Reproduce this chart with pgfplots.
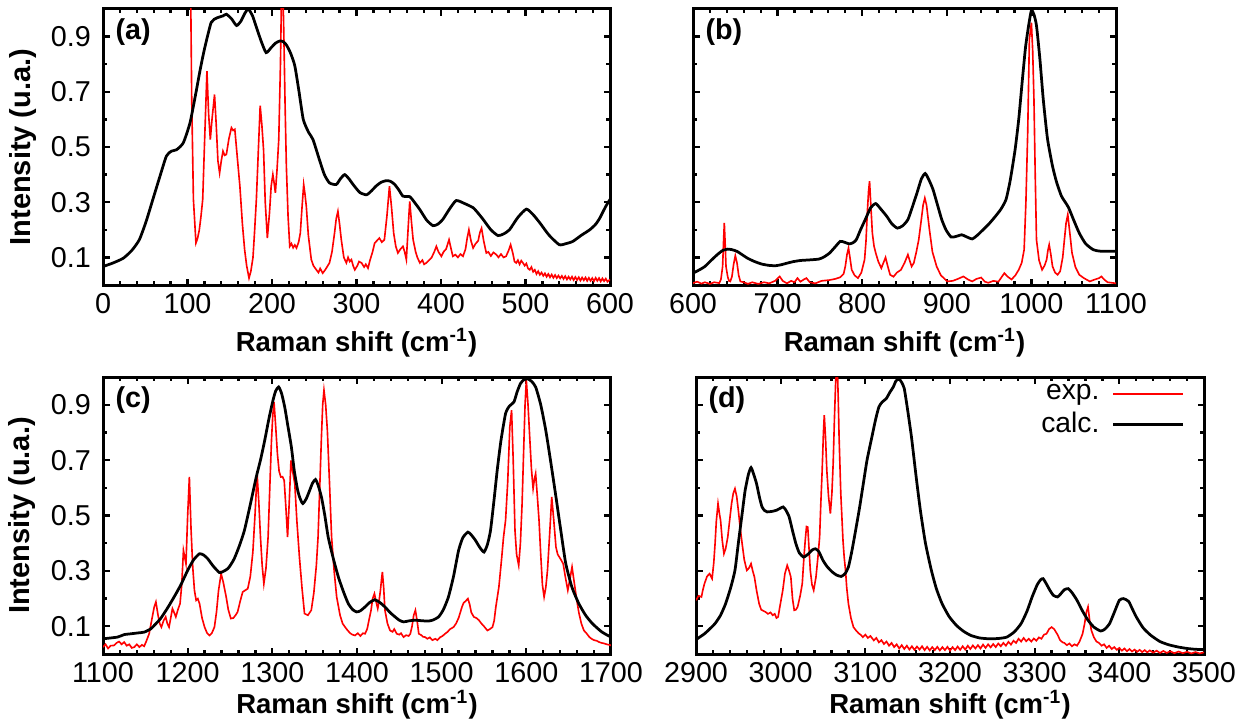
\documentclass[border=0pt]{standalone}
\usepackage{pgfplots}
\pgfplotsset{compat=1.18}
\usepackage{fontspec}
\setmainfont{Liberation Sans}
\pgfplotsset{
  panel/.style={
    scale only axis, anchor=south west, ymin=0, ymax=1,
    ytick={0.1,0.3,0.5,0.7,0.9}, minor ytick={0.2,0.4,0.6,0.8},
    minor x tick num=4, tick align=inside,
    major tick length=2.6pt, minor tick length=1.6pt,
    axis line style={line width=1.2pt},
    every tick/.style={black, line width=0.9pt},
    tick label style={font=\fontsize{11.5}{13}\selectfont},
    every axis y label/.append style={at={(axis description cs:-0.1587,0.5)}, anchor=center},
    xlabel style={font=\fontsize{11}{13}\selectfont\bfseries},
    ylabel style={font=\fontsize{11.6}{13}\selectfont\bfseries},
    /pgf/number format/assume math mode=true,
    xticklabel style={/pgf/number format/1000 sep={}},
    yticklabel style={/pgf/number format/fixed, /pgf/number format/precision=1, xshift=-1.3pt},
    xlabel={Raman shift (cm\textsuperscript{-1})},
  },
  toprow/.style={every axis x label/.append style={at={(axis description cs:0.5,-0.21)}, anchor=center}},
  botrow/.style={every axis x label/.append style={at={(axis description cs:0.5,-0.184)}, anchor=center}},
}
\tikzset{
  exp/.style={red, line width=0.65pt},
  calc/.style={black, line width=1.1pt, smooth, tension=0.35},
  plab/.style={anchor=north west, inner sep=0pt, font=\fontsize{11.5}{13}\selectfont\bfseries, xshift=4.8pt, yshift=-3.6pt},
}
\begin{document}
\begin{tikzpicture}
\path[use as bounding box] (0pt,0pt) rectangle (502pt,289.6pt);
% ---------------- (a)
\begin{axis}[panel, toprow, at={(41.2pt,175.6pt)}, width=202.8pt, height=110.4pt,
  xmin=0, xmax=600, xtick={0,100,...,600}, ylabel={Intensity (u.a.)}]
\addplot[exp] coordinates {(103,1.3)(105,0.67)(107,0.31)(110,0.152)(112,0.17)(114,0.2)(116,0.25)(118,0.31)(120,0.5)(123,0.775)(125,0.62)(127,0.527)(129,0.6)(132,0.69)(134,0.58)(136,0.45)(138,0.406)(140,0.45)(142,0.485)(144,0.47)(146,0.473)(149,0.53)(152,0.57)(154,0.56)(156,0.564)(159,0.46)(162,0.358)(165,0.22)(167.6,0.128)(170,0.07)(172.8,0.025)(175,0.05)(177.5,0.1)(179.5,0.2)(181.5,0.31)(184,0.5)(186,0.65)(188,0.58)(190,0.49)(192,0.3)(194.5,0.17)(197,0.26)(199,0.358)(201,0.40)(202.5,0.37)(204,0.334)(206,0.42)(208,0.527)(210,0.8)(212,1.2)(214,0.91)(215.5,0.65)(217,0.43)(219,0.25)(221,0.14)(223,0.15)(225,0.135)(227,0.145)(229,0.134)(231.5,0.155)(233.5,0.188)(235.5,0.28)(237.5,0.364)(239,0.33)(240.6,0.285)(243,0.18)(246.5,0.092)(249,0.07)(252.5,0.055)(255,0.045)(257,0.06)(260,0.043)(263,0.055)(265,0.065)(268,0.08)(271,0.12)(274,0.188)(276,0.24)(278,0.267)(280,0.22)(282,0.164)(285,0.1)(288,0.08)(290,0.1)(292,0.085)(294,0.092)(296,0.07)(298,0.055)(301,0.07)(303,0.085)(306,0.08)(309,0.065)(311,0.075)(313.6,0.061)(316,0.09)(319,0.12)(321.5,0.152)(324,0.16)(327,0.17)(330,0.155)(333,0.164)(336,0.25)(339,0.358)(341.5,0.28)(344,0.188)(346.5,0.14)(349,0.116)(352,0.13)(355,0.14)(357,0.12)(359,0.092)(361,0.2)(363,0.303)(365,0.23)(367,0.164)(370,0.12)(372,0.1)(375,0.08)(378,0.09)(380,0.075)(382.6,0.08)(386,0.09)(389,0.1)(392,0.12)(394.5,0.14)(397,0.12)(400.4,0.104)(403,0.12)(406,0.13)(409.5,0.164)(412,0.13)(414,0.104)(417,0.11)(420,0.1)(423,0.112)(426,0.104)(429,0.13)(431,0.17)(433,0.2)(435.5,0.16)(438,0.134)(441,0.15)(444,0.16)(446,0.19)(448,0.206)(450.5,0.16)(453.6,0.116)(456,0.12)(459,0.105)(462,0.118)(465.5,0.11)(468,0.1)(471,0.112)(474,0.1)(477,0.104)(480,0.125)(482.4,0.146)(485,0.115)(487,0.085)(489,0.08)(491,0.09)(493,0.075)(495,0.088)(497,0.08)(499,0.07)(501,0.078)(503,0.06)(505,0.055)(507,0.065)(509,0.048)(511,0.055)(513,0.04)(515,0.05)(517,0.037)(519,0.045)(521,0.033)(523,0.042)(525,0.03)(527,0.04)(529,0.028)(531,0.038)(533,0.026)(535,0.036)(537,0.025)(539,0.034)(541,0.024)(543,0.033)(545,0.022)(547,0.032)(549,0.02)(551,0.03)(553,0.02)(555,0.03)(557,0.018)(559,0.029)(561,0.018)(563,0.028)(565,0.016)(567,0.027)(569,0.017)(571,0.027)(573,0.015)(575,0.026)(577,0.015)(579,0.025)(581,0.014)(583,0.026)(585,0.015)(587,0.025)(589,0.013)(591,0.024)(593,0.014)(595,0.023)(597,0.012)(600,0.02)};
\addplot[calc] coordinates {(0,0.067)(12,0.08)(24,0.097)(34,0.125)(43,0.164)(51,0.23)(59,0.31)(67,0.39)(75,0.467)(81,0.485)(87,0.49)(95,0.515)(103,0.588)(110,0.697)(115,0.78)(120,0.854)(128,0.951)(135,0.968)(142,0.975)(146,0.981)(152,0.965)(158,0.94)(163,0.955)(168,0.985)(172,1.0)(177,0.975)(181,0.939)(187,0.885)(193,0.842)(199,0.86)(204,0.876)(209,0.884)(213,0.882)(217,0.87)(222,0.84)(227,0.794)(232,0.7)(237,0.6)(243,0.555)(248.5,0.527)(256,0.455)(262,0.4)(268,0.37)(276,0.364)(281,0.385)(286,0.4)(291,0.385)(296,0.364)(304,0.335)(312,0.327)(318,0.342)(323,0.358)(329,0.372)(335,0.378)(340,0.376)(345,0.365)(350,0.345)(355,0.322)(363,0.32)(369,0.298)(375,0.273)(383,0.235)(390.5,0.215)(396,0.22)(402,0.237)(410,0.275)(418,0.306)(428,0.295)(438,0.28)(444,0.26)(450,0.237)(459,0.2)(467.5,0.179)(474,0.185)(481,0.2)(491,0.245)(501,0.275)(509,0.255)(517,0.225)(528,0.18)(540,0.146)(548,0.15)(556,0.158)(566,0.18)(576,0.2)(583,0.22)(588,0.243)(595,0.285)(600,0.31)};
\node[plab] at (rel axis cs:0,1) {(a)};
\end{axis}
% ---------------- (b)
\begin{axis}[panel, toprow, at={(277.2pt,175.6pt)}, width=169.2pt, height=110.4pt,
  xmin=600, xmax=1100, xtick={600,700,...,1100}, yticklabels={}]
\addplot[exp] coordinates {(600,0.007)(605,0.012)(610,0.005)(614,0.01)(620,0.004)(625,0.01)(631,0.007)(633,0.02)(635,0.067)(636,0.15)(637,0.225)(638,0.15)(639,0.067)(641,0.03)(642.5,0.015)(644,0.013)(646,0.03)(648,0.075)(650,0.106)(652,0.08)(654,0.035)(656,0.013)(660,0.01)(665,0.004)(670,0.01)(677,0.004)(684,0.01)(690,0.006)(697,0.015)(702.5,0.031)(706,0.015)(711,0.006)(716,0.015)(720,0.01)(723.5,0.025)(727,0.012)(731,0.02)(734,0.025)(738,0.01)(744.6,0.006)(752,0.015)(761.5,0.018)(768,0.022)(774,0.028)(778,0.04)(780,0.067)(782,0.11)(783.8,0.134)(785.5,0.1)(787.6,0.055)(791,0.035)(795,0.025)(799,0.045)(802.8,0.092)(804.5,0.16)(806,0.261)(807.5,0.34)(808.7,0.376)(810,0.3)(812,0.188)(814,0.14)(816,0.116)(819,0.085)(822.6,0.061)(825,0.08)(827.6,0.1)(830,0.07)(833,0.037)(837,0.03)(841,0.045)(845.8,0.055)(850,0.08)(854,0.11)(856,0.09)(858.4,0.067)(861,0.08)(864,0.12)(866.8,0.164)(870,0.24)(872,0.29)(874,0.315)(876,0.29)(879.5,0.2)(883,0.12)(888,0.067)(893,0.035)(900.6,0.013)(907,0.015)(913,0.022)(919.6,0.031)(925,0.02)(930,0.013)(935,0.022)(940.6,0.027)(945,0.012)(949,0.008)(955,0.015)(961,0.012)(968,0.043)(972,0.03)(976.5,0.02)(981,0.035)(985,0.055)(988.5,0.08)(991.4,0.128)(993.5,0.3)(995.6,0.55)(997.6,0.89)(1000,0.95)(1001.5,0.85)(1003,0.673)(1004.5,0.4)(1006,0.164)(1009,0.09)(1012.6,0.055)(1015.5,0.07)(1018,0.092)(1019.5,0.125)(1021,0.146)(1023,0.11)(1025,0.067)(1028,0.045)(1031,0.037)(1034,0.05)(1037,0.1)(1039,0.164)(1041,0.225)(1043,0.255)(1045,0.2)(1048,0.116)(1052,0.065)(1056.6,0.037)(1062,0.025)(1069,0.013)(1075,0.02)(1080,0.025)(1082.7,0.031)(1086,0.02)(1090,0.01)(1095,0.008)(1100,0.006)};
\addplot[calc] coordinates {(600,0.043)(607,0.054)(614,0.067)(621,0.088)(628.7,0.11)(635,0.125)(641,0.13)(646,0.128)(652,0.122)(658,0.11)(664.5,0.097)(672,0.086)(681,0.076)(690,0.071)(698,0.07)(705,0.074)(711,0.079)(719,0.085)(727.7,0.089)(738,0.091)(749,0.094)(755,0.102)(761.5,0.116)(768,0.138)(774,0.158)(779,0.155)(784.7,0.149)(789,0.153)(793,0.164)(798,0.2)(803.6,0.237)(810,0.28)(816,0.295)(822,0.275)(829,0.249)(835,0.222)(841.6,0.206)(848,0.215)(854,0.237)(859,0.28)(864.8,0.334)(870,0.385)(874.5,0.404)(879,0.38)(883.7,0.346)(889,0.29)(894,0.237)(899,0.2)(905,0.174)(911,0.176)(917.5,0.182)(923,0.175)(930,0.167)(936,0.18)(942.8,0.2)(950,0.222)(957.5,0.249)(964,0.275)(970,0.31)(975,0.38)(980.7,0.49)(985,0.6)(989,0.733)(993,0.86)(996.7,0.94)(1000,0.995)(1003,0.98)(1006,0.94)(1010,0.82)(1014,0.673)(1019,0.53)(1025,0.43)(1030,0.37)(1035.5,0.322)(1040,0.3)(1044,0.28)(1050,0.235)(1056.6,0.188)(1064,0.15)(1073,0.128)(1080,0.123)(1086,0.122)(1100,0.122)};
\node[plab] at (rel axis cs:0,1) {(b)};
\end{axis}
% ---------------- (c)
\begin{axis}[panel, botrow, at={(41.2pt,28pt)}, width=203.2pt, height=110.8pt,
  xmin=1100, xmax=1700, xtick={1100,1200,...,1700}, ylabel={Intensity (u.a.)}]
\addplot[exp] coordinates {(1100,0.025)(1103,0.035)(1106,0.02)(1109,0.03)(1113,0.031)(1116,0.04)(1119,0.045)(1122,0.035)(1125,0.043)(1128,0.03)(1131,0.035)(1134,0.022)(1137,0.025)(1140,0.035)(1143,0.025)(1146,0.033)(1148.6,0.028)(1151,0.045)(1154.5,0.073)(1158,0.13)(1160.5,0.17)(1162.5,0.188)(1165,0.14)(1167,0.11)(1169,0.097)(1171.5,0.12)(1174,0.134)(1176,0.11)(1178,0.097)(1180,0.13)(1182,0.164)(1184,0.15)(1186,0.134)(1188.5,0.16)(1191,0.182)(1193,0.25)(1195,0.374)(1196.5,0.35)(1198,0.326)(1200,0.5)(1202,0.639)(1204,0.45)(1206,0.314)(1208,0.23)(1210,0.194)(1212,0.2)(1214,0.182)(1217,0.13)(1220,0.097)(1223,0.075)(1225.7,0.067)(1228.5,0.075)(1231.6,0.097)(1234,0.15)(1236.5,0.23)(1239.5,0.29)(1242,0.26)(1245.5,0.206)(1248,0.16)(1251,0.128)(1254,0.13)(1257,0.142)(1259,0.152)(1262,0.19)(1265,0.224)(1268,0.23)(1271,0.236)(1274,0.28)(1277,0.368)(1279.5,0.5)(1282,0.651)(1284,0.55)(1286,0.422)(1288,0.32)(1290,0.254)(1292.5,0.31)(1295,0.422)(1297,0.6)(1299,0.771)(1300.5,0.86)(1302,0.91)(1304,0.82)(1306,0.723)(1308,0.66)(1310,0.639)(1312,0.64)(1314,0.627)(1316,0.53)(1318,0.422)(1320,0.55)(1322,0.699)(1324,0.66)(1326.5,0.615)(1329,0.48)(1332,0.35)(1335,0.24)(1338,0.146)(1342,0.14)(1346,0.158)(1349,0.22)(1352,0.32)(1354,0.422)(1356,0.6)(1358,0.783)(1359.5,0.9)(1361,0.952)(1363,0.9)(1365,0.807)(1367.5,0.62)(1370,0.422)(1373,0.3)(1376,0.206)(1380,0.14)(1383,0.11)(1386,0.097)(1389,0.085)(1392,0.075)(1394.5,0.07)(1397.6,0.067)(1401,0.075)(1404,0.065)(1407,0.075)(1409.5,0.073)(1412,0.09)(1414,0.12)(1416.6,0.158)(1418.5,0.2)(1420.6,0.218)(1422.5,0.19)(1424.5,0.164)(1426,0.19)(1427.7,0.23)(1429,0.27)(1430,0.296)(1431.5,0.24)(1433,0.158)(1436,0.11)(1439,0.085)(1442,0.08)(1444,0.09)(1447,0.073)(1450,0.07)(1452,0.075)(1455,0.061)(1458,0.068)(1461,0.065)(1463,0.073)(1465,0.1)(1467,0.14)(1469,0.158)(1471,0.12)(1473,0.073)(1476,0.068)(1478,0.062)(1480.6,0.061)(1483,0.055)(1486,0.06)(1489,0.05)(1492.5,0.055)(1495,0.05)(1498,0.06)(1501,0.065)(1504,0.073)(1507,0.08)(1510,0.09)(1514,0.097)(1517,0.11)(1520,0.13)(1522,0.15)(1524,0.17)(1526,0.185)(1528,0.19)(1531,0.2)(1533,0.18)(1535,0.15)(1538,0.134)(1541,0.13)(1544,0.122)(1547,0.11)(1550,0.1)(1554,0.085)(1557,0.09)(1560,0.097)(1562,0.12)(1564,0.17)(1567.6,0.242)(1571,0.35)(1573,0.42)(1575.5,0.483)(1578,0.62)(1580.5,0.82)(1582.6,0.88)(1584.5,0.7)(1586.6,0.446)(1588.5,0.36)(1591,0.32)(1593,0.4)(1595,0.543)(1597,0.75)(1598.5,0.9)(1600,0.988)(1602,0.9)(1604,0.783)(1606,0.67)(1608,0.597)(1609.5,0.63)(1611,0.651)(1613,0.57)(1615,0.483)(1617,0.36)(1619,0.25)(1621,0.206)(1623,0.24)(1625,0.302)(1627.5,0.43)(1630,0.567)(1632.5,0.48)(1635,0.386)(1637,0.36)(1639,0.35)(1641,0.34)(1643.5,0.326)(1646,0.28)(1649,0.23)(1651.5,0.27)(1654,0.314)(1656.5,0.26)(1659,0.206)(1662,0.15)(1665,0.11)(1668,0.085)(1671,0.075)(1674.5,0.061)(1677,0.055)(1680,0.05)(1683,0.048)(1686,0.043)(1689,0.04)(1692,0.038)(1695,0.035)(1698,0.033)(1700,0.031)};
\addplot[calc] coordinates {(1100,0.055)(1117,0.061)(1125,0.07)(1133,0.073)(1141,0.076)(1148.6,0.079)(1156.5,0.091)(1162,0.108)(1168,0.128)(1176,0.165)(1184,0.206)(1192,0.25)(1200,0.302)(1207,0.34)(1214,0.362)(1219,0.357)(1223.7,0.344)(1230,0.318)(1237.5,0.294)(1242,0.298)(1247.4,0.308)(1251,0.323)(1255,0.344)(1261,0.39)(1267,0.446)(1274,0.54)(1281,0.639)(1286,0.7)(1291,0.771)(1296,0.85)(1300.8,0.916)(1304,0.95)(1307.5,0.964)(1311,0.94)(1314.6,0.892)(1318,0.83)(1322.5,0.747)(1326,0.66)(1330,0.59)(1333,0.56)(1336,0.543)(1340,0.56)(1344,0.59)(1347.5,0.617)(1351,0.63)(1354,0.61)(1358,0.567)(1362,0.5)(1366,0.422)(1372,0.345)(1378,0.278)(1384,0.225)(1389.7,0.182)(1395,0.16)(1399.6,0.152)(1404,0.156)(1409.5,0.17)(1415,0.186)(1421,0.196)(1427,0.186)(1433,0.17)(1439,0.15)(1445,0.134)(1450,0.122)(1455,0.116)(1462,0.12)(1469,0.122)(1477,0.12)(1484.6,0.119)(1490,0.123)(1496.4,0.134)(1502,0.16)(1508,0.206)(1514,0.28)(1520,0.374)(1525,0.42)(1531,0.44)(1535,0.43)(1540,0.41)(1545,0.385)(1550,0.368)(1554,0.395)(1557.7,0.446)(1562,0.56)(1565.6,0.663)(1570,0.77)(1575.5,0.868)(1580,0.895)(1585.4,0.91)(1589,0.945)(1593,0.976)(1597,0.99)(1601,0.994)(1606,0.985)(1611,0.964)(1617,0.9)(1623,0.807)(1629,0.69)(1635,0.567)(1641,0.44)(1646.6,0.326)(1654,0.24)(1662,0.182)(1670,0.14)(1678,0.11)(1689,0.08)(1700,0.061)};
\node[plab] at (rel axis cs:0,1) {(c)};
\end{axis}
% ---------------- (d)
\begin{axis}[panel, botrow, at={(278.4pt,28pt)}, width=203.2pt, height=110.8pt,
  xmin=2900, xmax=3500, xtick={2900,3000,...,3500}, yticklabels={},
  legend style={draw=none, fill=none, at={(0.963,0.992)}, anchor=north east, inner sep=0pt,
    font=\fontsize{11.3}{13}\selectfont, row sep=-0.5pt, column sep=3pt},
  legend cell align=right, legend plot pos=right,
  legend image code/.code={\draw[#1] (0pt,0pt) -- (28pt,0pt);}]
\addplot[exp] coordinates {(2900,0.194)(2903,0.21)(2906.4,0.206)(2908,0.23)(2910,0.254)(2913,0.28)(2916,0.29)(2919,0.272)(2921,0.33)(2922.5,0.398)(2924,0.48)(2926,0.543)(2928,0.5)(2929,0.483)(2931,0.41)(2933,0.362)(2935,0.38)(2937.5,0.422)(2940,0.49)(2942,0.543)(2944,0.58)(2946,0.597)(2948,0.57)(2950,0.519)(2952,0.46)(2954.5,0.398)(2957,0.34)(2960,0.302)(2962.5,0.31)(2965,0.326)(2967,0.3)(2969,0.278)(2971.5,0.23)(2974.5,0.182)(2977,0.16)(2980,0.155)(2982,0.152)(2985,0.145)(2988,0.15)(2990.6,0.14)(2993,0.145)(2995,0.13)(2997,0.134)(2999,0.17)(3002.5,0.23)(3005,0.29)(3007.7,0.32)(3010,0.3)(3012,0.278)(3014,0.2)(3016,0.158)(3018,0.16)(3020,0.17)(3023,0.21)(3025.5,0.254)(3027.5,0.35)(3029,0.41)(3030.5,0.46)(3032,0.458)(3033.5,0.38)(3035,0.302)(3037,0.25)(3039,0.23)(3041.7,0.278)(3044,0.35)(3046,0.422)(3047.5,0.55)(3049,0.663)(3050.5,0.8)(3051.5,0.862)(3053,0.78)(3054.5,0.663)(3056.5,0.57)(3058.7,0.507)(3060.5,0.58)(3062,0.687)(3063.5,0.85)(3065,0.988)(3067,1.03)(3068,0.92)(3069,0.783)(3071,0.58)(3073.6,0.41)(3075,0.35)(3076.6,0.302)(3078,0.24)(3080,0.182)(3083,0.13)(3086,0.097)(3089,0.085)(3092,0.075)(3095,0.068)(3097,0.061)(3100,0.07)(3103,0.058)(3106,0.065)(3110,0.049)(3113,0.058)(3116,0.042)(3119,0.05)(3122,0.036)(3125,0.045)(3128,0.03)(3131,0.04)(3134,0.025)(3137,0.035)(3140,0.02)(3143,0.032)(3146,0.018)(3149,0.03)(3152,0.016)(3155,0.028)(3158,0.015)(3161,0.027)(3164,0.016)(3167,0.028)(3170,0.014)(3173,0.026)(3176,0.013)(3179,0.025)(3182,0.014)(3185,0.026)(3188,0.013)(3191,0.025)(3194,0.014)(3197,0.026)(3200,0.012)(3203,0.025)(3206,0.014)(3209,0.027)(3212,0.015)(3215,0.028)(3218,0.016)(3221,0.03)(3224,0.018)(3227,0.031)(3230,0.02)(3233,0.032)(3236,0.02)(3239,0.034)(3242,0.022)(3245,0.035)(3248,0.024)(3251,0.036)(3254,0.025)(3257,0.038)(3260,0.028)(3263,0.04)(3266,0.03)(3269,0.044)(3272,0.034)(3275,0.048)(3278,0.04)(3281,0.055)(3284,0.045)(3287,0.058)(3290,0.046)(3293,0.055)(3296,0.045)(3299,0.056)(3302,0.048)(3305,0.06)(3308,0.055)(3311,0.07)(3314,0.073)(3317,0.09)(3320,0.097)(3323,0.09)(3325,0.08)(3327,0.07)(3330,0.05)(3333,0.042)(3335,0.04)(3338,0.032)(3341,0.038)(3344,0.028)(3347,0.035)(3350,0.03)(3353,0.045)(3356.6,0.073)(3359,0.11)(3361,0.15)(3363,0.17)(3365,0.12)(3367,0.085)(3370,0.06)(3373,0.045)(3376,0.04)(3379,0.03)(3382,0.035)(3385,0.022)(3388,0.03)(3391,0.018)(3394,0.025)(3397,0.015)(3400,0.022)(3403,0.012)(3406,0.02)(3409,0.01)(3412,0.018)(3415,0.009)(3418,0.016)(3421,0.008)(3424,0.015)(3427,0.007)(3430,0.014)(3433,0.006)(3436,0.013)(3440,0.005)(3444,0.012)(3448,0.004)(3452,0.011)(3456,0.004)(3460,0.01)(3465,0.003)(3470,0.009)(3475,0.003)(3480,0.008)(3485,0.002)(3490,0.007)(3495,0.002)(3500,0.006)};
\addlegendentry{exp.}
\addplot[calc] coordinates {(2900,0.052)(2910,0.073)(2916,0.09)(2922.5,0.11)(2929,0.14)(2935,0.182)(2941,0.24)(2946,0.302)(2950,0.4)(2954.5,0.507)(2958,0.59)(2962,0.65)(2965,0.673)(2968,0.65)(2971.5,0.615)(2975,0.565)(2978,0.531)(2981,0.518)(2984,0.513)(2990,0.515)(2995,0.519)(3000,0.527)(3003,0.531)(3006,0.52)(3010,0.495)(3014,0.445)(3018,0.398)(3022,0.365)(3027,0.35)(3030,0.355)(3033,0.362)(3037,0.375)(3041,0.38)(3045,0.37)(3050,0.338)(3055,0.315)(3061,0.296)(3066,0.285)(3071.5,0.28)(3076,0.29)(3080,0.314)(3084,0.37)(3088.5,0.446)(3093,0.525)(3097,0.603)(3102,0.7)(3107.7,0.783)(3112,0.845)(3116,0.892)(3120,0.91)(3124.7,0.922)(3129,0.945)(3133,0.964)(3136,0.985)(3139.6,0.994)(3143,0.98)(3146,0.958)(3150,0.88)(3154.5,0.783)(3160,0.64)(3165,0.519)(3171,0.4)(3178,0.302)(3184,0.235)(3190.6,0.182)(3199,0.135)(3207.7,0.103)(3216,0.082)(3224.7,0.067)(3235,0.058)(3246,0.055)(3257,0.056)(3267,0.061)(3276,0.08)(3284,0.11)(3291,0.155)(3297,0.206)(3303,0.25)(3307,0.268)(3310,0.272)(3314,0.252)(3318,0.23)(3322,0.212)(3327,0.206)(3331,0.218)(3335,0.232)(3339.6,0.236)(3344,0.222)(3350,0.194)(3356,0.158)(3363,0.122)(3370,0.097)(3378,0.083)(3383,0.09)(3388.5,0.11)(3394,0.15)(3400,0.194)(3405,0.2)(3411,0.19)(3415,0.165)(3420,0.134)(3428,0.095)(3437,0.068)(3448,0.045)(3458.7,0.033)(3470,0.025)(3480,0.02)(3490,0.017)(3500,0.016)};
\addlegendentry{calc.}
\node[plab] at (rel axis cs:0,1) {(d)};
\end{axis}
\end{tikzpicture}
\end{document}
